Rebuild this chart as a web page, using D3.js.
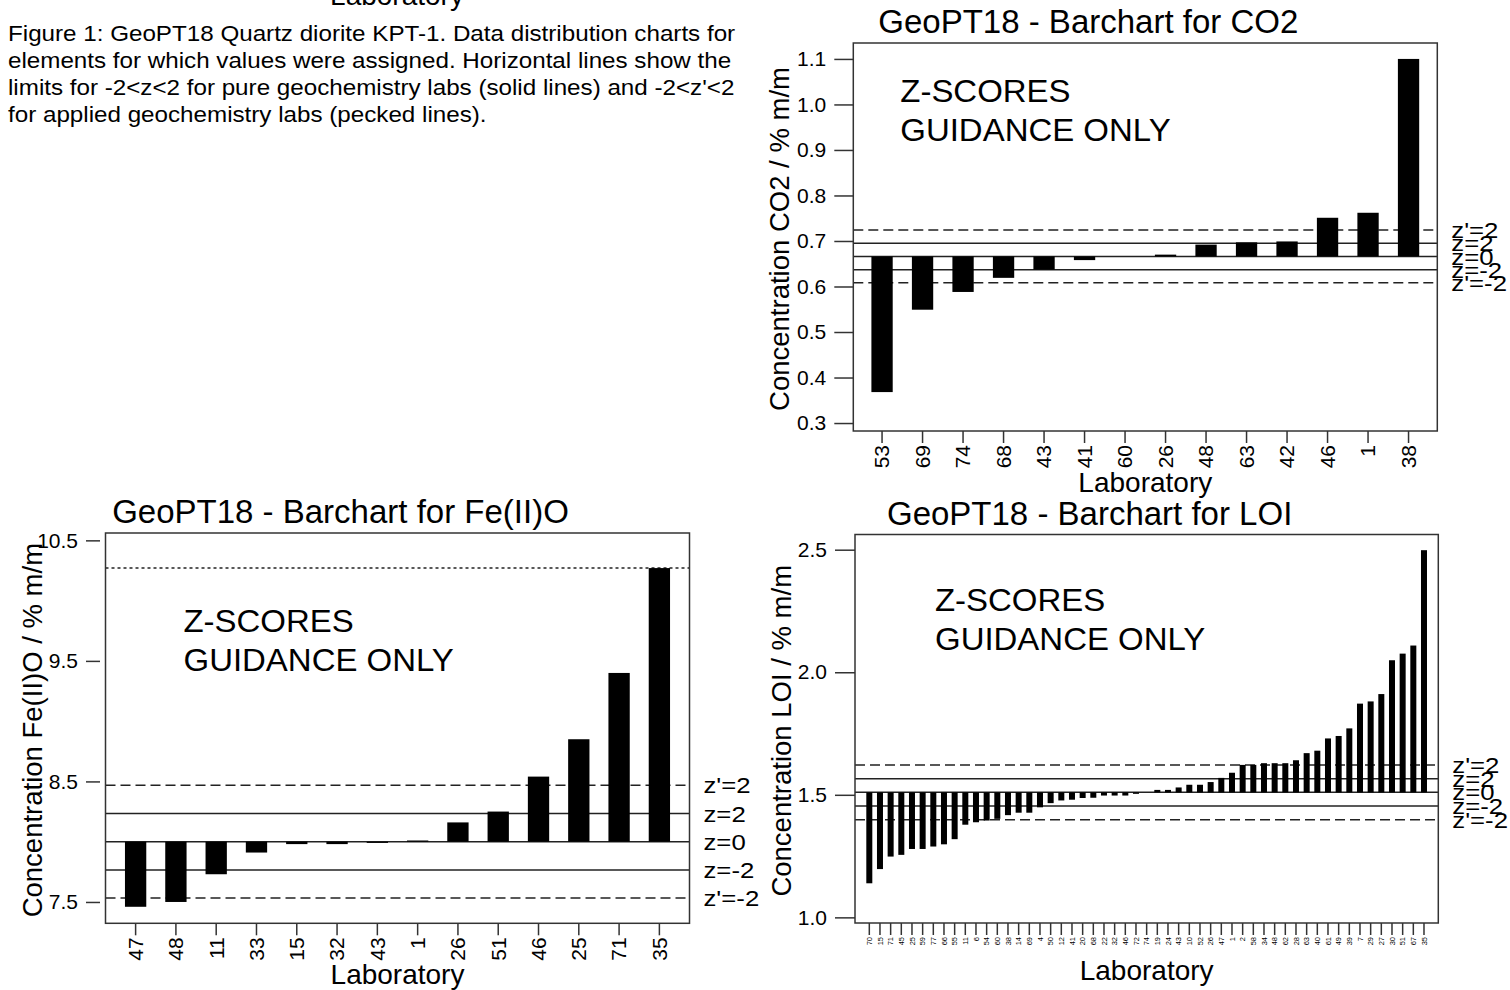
<!DOCTYPE html>
<html>
<head>
<meta charset="utf-8">
<script src="https://cdnjs.cloudflare.com/ajax/libs/d3/7.8.5/d3.min.js"></script>
<style>
body { margin: 0; background: #fff; }
svg { font-family: Arial, "Liberation Sans", sans-serif; }
</style>
</head>
<body>
<svg id="fig" width="1510" height="990"></svg>
<script>

// labels for the limit lines, top to bottom
var zLabels = ["z'=2", "z=2", "z=0", "z=-2", "z'=-2"];

var captionLines = [
    "Figure 1: GeoPT18 Quartz diorite KPT-1. Data distribution charts for",
    "elements for which values were assigned. Horizontal lines show the",
    "limits for -2<z<2 for pure geochemistry labs (solid lines) and -2<z'<2",
    "for applied geochemistry labs (pecked lines)."
];

// CO2
var co2Labs = ["53", "69", "74", "68", "43", "41", "60", "26", "48", "63", "42", "46", "1", "38"];
var co2Values = [0.368, 0.549, 0.588, 0.619, 0.637, 0.658, 0.666, 0.670, 0.692, 0.697, 0.699, 0.751, 0.762, 1.100];
var co2Limits = [0.724, 0.695, 0.666, 0.637, 0.608];
var co2Ticks = [0.3, 0.4, 0.5, 0.6, 0.7, 0.8, 0.9, 1.0, 1.1];

// Fe(II)O
var feLabs = ["47", "48", "11", "33", "15", "32", "43", "1", "26", "51", "46", "25", "71", "35"];
var feValues = [7.46, 7.50, 7.73, 7.91, 7.98, 7.98, 7.99, 8.01, 8.16, 8.25, 8.54, 8.85, 9.40, 10.27];
var feLimits = [8.468, 8.234, 8.000, 7.766, 7.532];
var feUpper = 10.27;
var feTicks = [7.5, 8.5, 9.5, 10.5];

// LOI
var loiLabs = ["70", "15", "71", "45", "25", "59", "77", "66", "55", "11", "6", "54", "60", "38", "14", "69", "4", "50", "12", "41",
    "20", "68", "22", "32", "46", "72", "74", "19", "24", "43", "10", "52", "26", "47", "1", "2", "58", "34", "48", "62",
    "28", "63", "40", "61", "49", "39", "7", "29", "27", "30", "51", "67", "35"];
var loiValues = [1.139, 1.197, 1.248, 1.255, 1.279, 1.279, 1.289, 1.298, 1.319, 1.378, 1.388, 1.395, 1.402, 1.417, 1.427, 1.427, 1.449, 1.466, 1.477, 1.480,
    1.487, 1.488, 1.497, 1.497, 1.497, 1.504, 1.510, 1.520, 1.520, 1.530, 1.541, 1.541, 1.552, 1.569, 1.590, 1.622, 1.622, 1.629, 1.629, 1.629,
    1.641, 1.670, 1.680, 1.730, 1.740, 1.771, 1.872, 1.881, 1.911, 2.049, 2.076, 2.109, 2.498];
var loiLimits = [1.622, 1.566, 1.510, 1.454, 1.398];
var loiTicks = [1.0, 1.5, 2.0, 2.5];


var svg = d3.select("#fig");

/***********************************************************************************************************/

function drawBarchart(svg, cfg) {

    var x = d3.scaleBand().domain(cfg.labs)
        .range([cfg.x0, cfg.x1])
        .paddingInner(cfg.pi).paddingOuter(cfg.po);
    var y = d3.scaleLinear().domain(cfg.dom).range([cfg.y1, cfg.y0]);
    var base = cfg.limits[2];
    var g = svg.append("g");

    // horizontal z / z' lines, dashed for z'
    g.selectAll("line.lim").data(cfg.limits).enter().append("line")
        .attr("x1", cfg.x0).attr("x2", cfg.x1)
        .attr("y1", function(d){ return y(d); })
        .attr("y2", function(d){ return y(d); })
        .attr("stroke", "#222").attr("stroke-width", 1.5)
        .attr("stroke-dasharray", function(d, i){ return (i === 0 || i === 4) ? "10,5" : null; });

    if(cfg.upper !== undefined){
        g.append("line")
            .attr("x1", cfg.x0).attr("x2", cfg.x1)
            .attr("y1", y(cfg.upper)).attr("y2", y(cfg.upper))
            .attr("stroke", "#222").attr("stroke-width", 1.5)
            .attr("stroke-dasharray", "3,3");
    }

    // bars hang from the assigned value
    g.selectAll("rect.bar").data(cfg.values).enter().append("rect")
        .attr("x", function(d, i){ return x(cfg.labs[i]); })
        .attr("width", x.bandwidth())
        .attr("y", function(d){ return y(Math.max(d, base)); })
        .attr("height", function(d){ return Math.abs(y(d) - y(base)); })
        .attr("fill", "#000");

    g.append("rect")
        .attr("x", cfg.x0).attr("y", cfg.y0)
        .attr("width", cfg.x1 - cfg.x0).attr("height", cfg.y1 - cfg.y0)
        .attr("fill", "none").attr("stroke", "#333").attr("stroke-width", 1.5);

    // y axis
    var ya = g.append("g")
        .attr("transform", "translate(" + (cfg.x0 - cfg.ygap) + ",0)")
        .call(d3.axisLeft(y).tickValues(cfg.ticks).tickSize(cfg.ytick)
            .tickPadding(cfg.ypad).tickFormat(d3.format(".1f")));
    ya.select(".domain").remove();
    ya.selectAll("line").attr("stroke", "#333").attr("stroke-width", 1.5);
    ya.selectAll("text").attr("font-size", cfg.tickFont + "px").attr("fill", "#000")
        .attr("font-family", null);

    // x axis, labels turned up
    var xa = g.append("g")
        .attr("transform", "translate(0," + cfg.y1 + ")")
        .call(d3.axisBottom(x).tickSize(12));
    xa.select(".domain").remove();
    xa.selectAll("line").attr("stroke", "#333").attr("stroke-width", 1.5);
    xa.selectAll("text")
        .attr("font-family", null)
        .attr("font-size", cfg.xFont + "px").attr("fill", "#000")
        .attr("text-anchor", "end")
        .attr("transform", "translate(0,14) rotate(-90)")
        .attr("x", 0).attr("y", 0).attr("dy", "0.35em");

    var cx = (cfg.x0 + cfg.x1) / 2;

    g.append("text")
        .attr("x", cx - 57).attr("y", cfg.y0 - 10)
        .attr("text-anchor", "middle")
        .attr("font-size", "33px")
        .text(cfg.title);

    g.append("text")
        .attr("x", cx).attr("y", cfg.y1 + cfg.xtitle)
        .attr("text-anchor", "middle")
        .attr("font-size", "28px")
        .text("Laboratory");

    g.append("text")
        .attr("transform", "translate(" + (cfg.x0 - 64) + "," + ((cfg.y0 + cfg.y1) / 2 + 2) + ") rotate(-90)")
        .attr("text-anchor", "middle")
        .attr("font-size", "27.5px")
        .text(cfg.ytitle);

    g.selectAll("text.guide").data(["Z-SCORES", "GUIDANCE ONLY"]).enter().append("text")
        .attr("transform", function(d, i){
            return "translate(" + (cfg.x0 + cfg.noteX) + "," + (cfg.y0 + cfg.noteY + i * 39) + ") scale(1.03,1)";
        })
        .attr("font-size", "32px")
        .text(function(d){ return d; });

    g.selectAll("text.zlab").data(cfg.limits).enter().append("text")
        .attr("transform", function(d){
            return "translate(" + (cfg.x1 + 14) + "," + y(d) + ") scale(1.12,1)";
        })
        .attr("dy", "0.35em")
        .attr("font-size", "23px")
        .text(function(d, i){ return zLabels[i]; });
}

/***********************************************************************************************************/

// bit of the previous chart's axis title, cut at the top
svg.append("text").attr("x", 397).attr("y", 5)
    .attr("text-anchor", "middle").attr("font-size", "28px")
    .text("Laboratory");

svg.selectAll("text.caption").data(captionLines).enter().append("text")
    .attr("transform", function(d, i){ return "translate(8," + (41 + i * 27) + ") scale(1.1,1)"; })
    .attr("font-size", "22px")
    .text(function(d){ return d; });

drawBarchart(svg, {
    title: "GeoPT18 - Barchart for CO2",
    ytitle: "Concentration CO2 / % m/m",
    labs: co2Labs, values: co2Values, limits: co2Limits, ticks: co2Ticks,
    dom: [0.2825, 1.135],
    x0: 853.3, x1: 1437.3, y0: 43, y1: 431,
    pi: 0.474, po: 0.447,
    ygap: 0, ytick: 19, ypad: 8, tickFont: 21, xFont: 21, xtitle: 61,
    noteX: 47, noteY: 59
});

drawBarchart(svg, {
    title: "GeoPT18 - Barchart for Fe(II)O",
    ytitle: "Concentration Fe(II)O / % m/m",
    labs: feLabs, values: feValues, limits: feLimits, ticks: feTicks, upper: feUpper,
    dom: [7.323, 10.561],
    x0: 105.5, x1: 689.5, y0: 533, y1: 923.3,
    pi: 0.471, po: 0.483,
    ygap: 5.5, ytick: 14, ypad: 8, tickFont: 21, xFont: 21, xtitle: 61,
    noteX: 78, noteY: 99
});

drawBarchart(svg, {
    title: "GeoPT18 - Barchart for LOI",
    ytitle: "Concentration LOI / % m/m",
    labs: loiLabs, values: loiValues, limits: loiLimits, ticks: loiTicks,
    dom: [0.977, 2.562],
    x0: 855, x1: 1438.3, y0: 534.5, y1: 923,
    pi: 0.437, po: 1.06,
    ygap: 0, ytick: 20, ypad: 8, tickFont: 21, xFont: 7.5, xtitle: 57,
    noteX: 80, noteY: 76
});

</script>
</body>
</html>
